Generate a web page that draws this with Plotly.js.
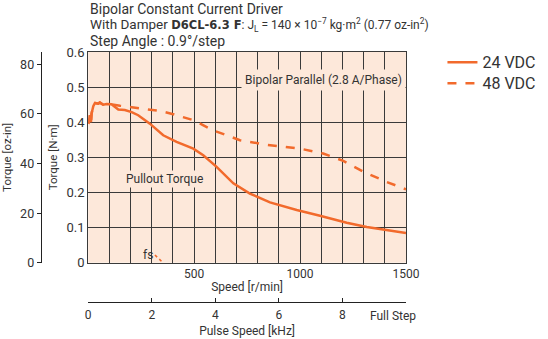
<!DOCTYPE html>
<html><head><meta charset="utf-8">
<script src="https://cdn.plot.ly/plotly-3.0.1.min.js"></script>
<style>html,body{margin:0;padding:0;background:#fff;}#chart{width:548px;height:339px;}</style>
</head><body><div id="chart"></div>
<script>
// Speed [r/min] and pullout torque [N·m]
const speed24 = [0, 3, 8, 13, 16, 24, 32, 47, 55, 71, 87, 110, 142, 173, 205, 236, 291, 354, 417, 496, 543, 606, 685, 763, 858, 984, 1094, 1220, 1315, 1409, 1500];
const torque24 = [0.396, 0.40, 0.42, 0.40, 0.425, 0.446, 0.455, 0.453, 0.456, 0.450, 0.452, 0.451, 0.436, 0.435, 0.429, 0.42, 0.396, 0.363, 0.344, 0.325, 0.306, 0.273, 0.226, 0.197, 0.172, 0.150, 0.134, 0.114, 0.102, 0.093, 0.085];
const speed48 = [0, 3, 8, 13, 16, 24, 32, 47, 55, 71, 87, 110, 150, 205, 276, 340, 401, 496, 590, 716, 842, 999, 1109, 1204, 1299, 1409, 1500];
const torque48 = [0.396, 0.40, 0.42, 0.40, 0.425, 0.446, 0.455, 0.453, 0.456, 0.450, 0.452, 0.451, 0.447, 0.443, 0.438, 0.432, 0.423, 0.406, 0.377, 0.349, 0.336, 0.325, 0.311, 0.290, 0.259, 0.230, 0.209];
const fsSpeed = [315, 353];
const fsTorque = [0.022, 0];
const seriesNames = ["24 VDC", "48 VDC"];
const speedTicks = [0, 100, 200, 300, 400, 500, 600, 700, 800, 900, 1000, 1100, 1200, 1300, 1400, 1500];
const speedLabels = ["", "", "", "", "", "500", "", "", "", "", "1000", "", "", "", "", "1500"];
const torqueTicks = [0, 0.1, 0.2, 0.3, 0.4, 0.5, 0.6];
const torqueLabels = ["0", "0.1", "0.2", "0.3", "0.4", "0.5", "0.6"];
const ozTicks = [0, 20, 40, 60, 80];
const pulseTicks = [0, 2, 4, 6, 8, 10];
const pulseLabels = ["0", "2", "4", "6", "8", ""];
const NM_TO_OZIN = 141.6;

const orange = "#f26a2c";
const peach = "#fde8da";
const gridc = "#3a3a3a";
const F = "Roboto, Arial, sans-serif";
const txt = "#333";

// pixel helpers for layout geometry
const W = 548, H = 339;
const mL = 20, mR = 141.5, mT = 51.7, mB = 20;
const plotW = W - mL - mR, plotH = H - mT - mB;
const xDom0 = (88.3 - mL) / plotW;
const yDom0 = (H - mB - 262.7) / plotH;
const py = p => (H - mB - p) / plotH;
const px = p => (p - mL) / plotW;

const traces = [
  {x: speed24, y: torque24, name: seriesNames[0], mode: "lines", line: {color: orange, width: 2.5}, xaxis: "x", yaxis: "y", legend: "legend"},
  {x: speed48, y: torque48, name: seriesNames[1], mode: "lines", line: {color: orange, width: 2.5, dash: "dash"}, xaxis: "x", yaxis: "y", legend: "legend2"},
  {x: fsSpeed, y: fsTorque, mode: "lines", showlegend: false, line: {color: orange, width: 1.6, dash: "dot"}, xaxis: "x", yaxis: "y"},
  // invisible anchor so the secondary (pulse speed / oz-in) axes are drawn
  {x: [pulseTicks[0], pulseTicks[pulseTicks.length - 1]], y: [ozTicks[0], ozTicks[0]], mode: "markers", marker: {opacity: 0, size: 1}, showlegend: false, hoverinfo: "skip", xaxis: "x2", yaxis: "y2"}
];

const axTitle = s => ({family: F, size: s, color: txt});

const layout = {
  width: W, height: H,
  margin: {l: mL, r: mR, t: mT, b: mB, pad: 0, autoexpand: false},
  paper_bgcolor: "#fff",
  plot_bgcolor: "rgba(0,0,0,0)",
  font: {family: F, size: 12, color: txt},
  showlegend: true,
  legend: {x: px(443), y: py(62), xanchor: "left", yanchor: "middle", font: {family: F, size: 16, color: txt}, bgcolor: "rgba(0,0,0,0)", itemwidth: 30},
  legend2: {x: px(443), y: py(83), xanchor: "left", yanchor: "middle", font: {family: F, size: 16, color: txt}, bgcolor: "rgba(0,0,0,0)", itemwidth: 30},
  xaxis: {
    domain: [xDom0, 1], range: [0, 1500], tickmode: "array", tickvals: speedTicks, ticktext: speedLabels,
    showgrid: true, gridcolor: gridc, gridwidth: 1, showline: true, linecolor: gridc, linewidth: 1, mirror: true,
    ticks: "", zeroline: false, tickfont: axTitle(12),
    title: {text: "Speed [r/min]", font: axTitle(12), standoff: 2}, anchor: "y"
  },
  yaxis: {
    domain: [yDom0, 1], range: [0, 0.6], tickmode: "array", tickvals: torqueTicks, ticktext: torqueLabels,
    showgrid: true, gridcolor: gridc, gridwidth: 1, showline: true, linecolor: gridc, linewidth: 1, mirror: true,
    ticks: "", zeroline: false, tickfont: axTitle(13),
    title: {text: "Torque [N·m]", font: axTitle(11.5), standoff: 6}, anchor: "x"
  },
  yaxis2: {
    domain: [yDom0, 1], range: [0, 0.6 * NM_TO_OZIN], overlaying: "y", anchor: "free", position: px(40.7), side: "left",
    tickmode: "array", tickvals: ozTicks, showgrid: false, zeroline: false, showline: true, linecolor: "#222", linewidth: 1,
    ticks: "outside", ticklen: 4, tickcolor: "#222", tickfont: axTitle(12.5),
    title: {text: "Torque [oz-in]", font: axTitle(11.5), standoff: 6}
  },
  xaxis2: {
    domain: [xDom0, 1], range: [0, 10], overlaying: "x", anchor: "free", position: py(301.7), side: "bottom",
    tickmode: "array", tickvals: pulseTicks, ticktext: pulseLabels, showgrid: false, zeroline: false,
    showline: true, linecolor: "#222", linewidth: 1, ticks: "inside", ticklen: 4, tickcolor: "#222",
    tickfont: axTitle(12), ticklabelstandoff: 2,
    title: {text: "Pulse Speed [kHz]", font: axTitle(12), standoff: 5}
  },
  shapes: [
    {type: "rect", xref: "x domain", yref: "y domain", x0: 0, x1: 1, y0: 0, y1: 1, fillcolor: peach, line: {width: 0}, layer: "below"}
  ],
  annotations: [
    {xref: "x domain", yref: "paper", x: 0, y: py(9), xanchor: "left", yanchor: "middle", showarrow: false, align: "left",
     text: "Bipolar Constant Current Driver", font: axTitle(14)},
    {xref: "x domain", yref: "paper", x: 0, y: py(25), xanchor: "left", yanchor: "middle", showarrow: false, align: "left",
     text: "<span style=\"font-size:13.5px\">With Damper </span><span style=\"font-family:'DejaVu Sans';font-weight:bold;font-size:11.5px\">D6CL-6.3 F</span>: J<sub>L</sub> = 140 × 10<sup>−7</sup> kg·m<sup>2</sup> (0.77 oz-in<sup>2</sup>)", font: axTitle(12)},
    {xref: "x domain", yref: "paper", x: 0, y: py(41), xanchor: "left", yanchor: "middle", showarrow: false, align: "left",
     text: "Step Angle : 0.9°/step", font: axTitle(14)},
    {xref: "x", yref: "y", x: 1500, y: 0.52, xanchor: "right", yanchor: "middle", showarrow: false,
     text: "Bipolar Parallel (2.8 A/Phase)", bgcolor: peach, borderpad: 3, font: axTitle(12)},
    {xref: "x", yref: "y", x: 362, y: 0.238, xanchor: "center", yanchor: "middle", showarrow: false,
     text: "Pullout Torque", bgcolor: peach, borderpad: 1, font: axTitle(12)},
    {xref: "x", yref: "y", x: 280, y: 0.022, xanchor: "center", yanchor: "middle", showarrow: false,
     text: "fs", font: axTitle(12)},
    {xref: "x domain", yref: "paper", x: (393 - 88.3) / (406.5 - 88.3), y: py(316), xanchor: "center", yanchor: "middle", showarrow: false,
     text: "Full Step", font: axTitle(12)}
  ]
};

Plotly.newPlot("chart", traces, layout, {staticPlot: true, displayModeBar: false});
</script></body></html>
